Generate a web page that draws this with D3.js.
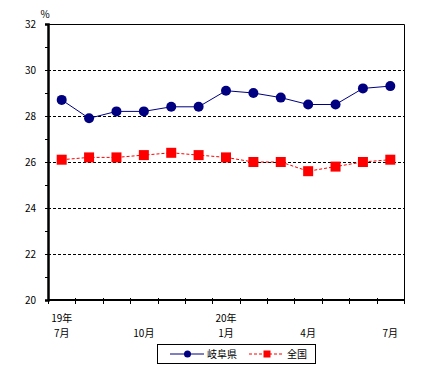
<!DOCTYPE html>
<html>
<head>
<meta charset="utf-8">
<script src="https://cdn.jsdelivr.net/npm/d3@7"></script>
<style>
  body { margin: 0; background: #fff; }
  text { font-family: "Noto Sans CJK JP", "DejaVu Sans", sans-serif; font-size: 10px; fill: #000; }
</style>
</head>
<body>
<div id="chart"></div>
<script>
// months from 19年7月 to 20年7月
const months    = ['7月', '8月', '9月', '10月', '11月', '12月', '1月', '2月', '3月', '4月', '5月', '6月', '7月']
const monthTick = ['7月', '', '', '10月', '', '', '1月', '', '', '4月', '', '', '7月']
const yearTick  = ['19年', '', '', '', '', '', '20年', '', '', '', '', '', '']
const gifu      = [28.7, 27.9, 28.2, 28.2, 28.4, 28.4, 29.1, 29.0, 28.8, 28.5, 28.5, 29.2, 29.3]
const zenkoku   = [26.1, 26.2, 26.2, 26.3, 26.4, 26.3, 26.2, 26.0, 26.0, 25.6, 25.8, 26.0, 26.1]
const yTicks    = [20, 22, 24, 26, 28, 30, 32]
const yMinor    = [21, 23, 25, 27, 29, 31]

const width = 430, height = 379
const plot = { left: 48, right: 404, top: 24, bottom: 300 }

const svg = d3.select('#chart').append('svg').attr('width', width).attr('height', height)

const x = d3.scaleBand().domain(d3.range(months.length)).range([plot.left, plot.right])
const y = d3.scaleLinear().domain([20, 32]).range([plot.bottom, plot.top])
const cx = i => x(i) + x.bandwidth() / 2

// gridlines
svg.append('g').selectAll('line')
  .data(yTicks.filter(v => v > 20 && v < 32))
  .enter().append('line')
  .attr('x1', plot.left).attr('x2', plot.right)
  .attr('y1', d => y(d)).attr('y2', d => y(d))
  .attr('stroke', '#000').attr('stroke-width', 1).attr('stroke-dasharray', '3,2')
  .attr('shape-rendering', 'crispEdges')

// frame top/right
svg.append('path')
  .attr('d', `M${plot.left},${y(32) + 0.5}H${plot.right + 0.5}V${plot.bottom}`)
  .attr('fill', 'none').attr('stroke', '#000').attr('stroke-width', 1)

// y axis
const yAxis = svg.append('g').attr('transform', 'translate(' + plot.left + ',0)')
  .call(d3.axisLeft(y).tickValues(yTicks.concat(yMinor)).tickSize(3).tickFormat(d => yTicks.includes(d) ? d : ''))
yAxis.select('.domain').attr('stroke-width', 2.5)
yAxis.selectAll('.tick text').attr('x', -12).style('font-size', '10px')

// x axis: ticks on category boundaries
const xAxis = svg.append('g')
xAxis.append('line').attr('x1', plot.left).attr('x2', plot.right + 1)
  .attr('y1', plot.bottom).attr('y2', plot.bottom).attr('stroke', '#000').attr('stroke-width', 2)
xAxis.selectAll('.xt').data(d3.range(months.length + 1)).enter().append('line')
  .attr('class', 'xt')
  .attr('x1', i => Math.round(plot.left + i * x.step()) + 0.5).attr('x2', i => Math.round(plot.left + i * x.step()) + 0.5)
  .attr('y1', plot.bottom - 2).attr('y2', plot.bottom + 4)
  .attr('stroke', '#000').attr('stroke-width', 1)
xAxis.selectAll('.yr').data(yearTick).enter().append('text')
  .attr('x', (d, i) => cx(i)).attr('y', 322).attr('text-anchor', 'middle').text(d => d)
xAxis.selectAll('.mo').data(monthTick).enter().append('text')
  .attr('x', (d, i) => cx(i)).attr('y', 337).attr('text-anchor', 'middle').text(d => d)

svg.append('text').attr('x', 45).attr('y', 18).attr('text-anchor', 'middle').text('%')

// 全国 line (red dashed, squares)
const line = d3.line().x((d, i) => cx(i)).y(d => y(d))
svg.append('path').datum(zenkoku).attr('d', line)
  .attr('fill', 'none').attr('stroke', '#ff0000').attr('stroke-width', 1).attr('stroke-dasharray', '3,2')
svg.selectAll('.sq').data(zenkoku).enter().append('rect')
  .attr('x', (d, i) => cx(i) - 5).attr('y', d => y(d) - 5)
  .attr('width', 10).attr('height', 10).attr('fill', '#ff0000')

// 岐阜県 line (navy, circles)
svg.append('path').datum(gifu).attr('d', line)
  .attr('fill', 'none').attr('stroke', '#000080').attr('stroke-width', 1)
svg.selectAll('.ci').data(gifu).enter().append('circle')
  .attr('cx', (d, i) => cx(i)).attr('cy', d => y(d)).attr('r', 5).attr('fill', '#000080')

// legend
const lg = svg.append('g')
lg.append('rect').attr('x', 157.5).attr('y', 344.5).attr('width', 158).attr('height', 19)
  .attr('fill', '#fff').attr('stroke', '#000').attr('stroke-width', 1)
lg.append('line').attr('x1', 170).attr('x2', 204).attr('y1', 354).attr('y2', 354).attr('stroke', '#000080')
lg.append('circle').attr('cx', 187.5).attr('cy', 354).attr('r', 3.5).attr('fill', '#000080')
lg.append('text').attr('x', 207).attr('y', 358).text('岐阜県')
lg.append('line').attr('x1', 249).attr('x2', 284).attr('y1', 354).attr('y2', 354)
  .attr('stroke', '#ff0000').attr('stroke-dasharray', '3,2')
lg.append('rect').attr('x', 263.5).attr('y', 350.5).attr('width', 7).attr('height', 7).attr('fill', '#ff0000')
lg.append('text').attr('x', 287).attr('y', 358).text('全国')
</script>
</body>
</html>
